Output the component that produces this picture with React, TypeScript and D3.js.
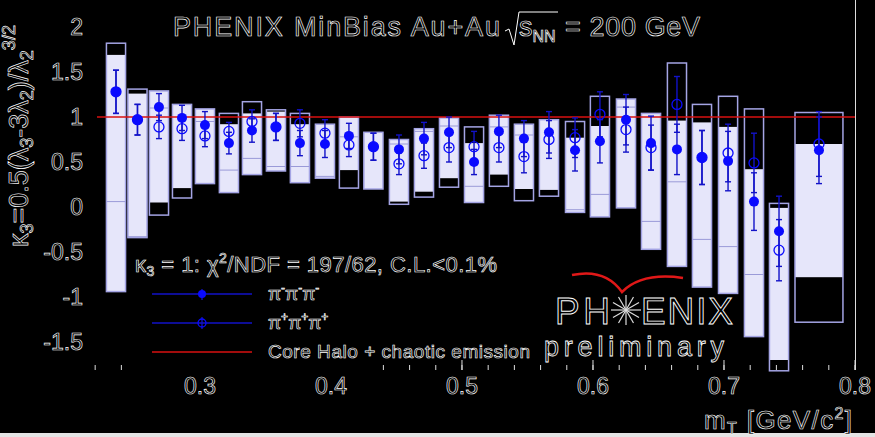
import * as d3 from "d3"

// bin centres in m_T [GeV/c^2] and bin widths
const mT = [
  0.2359, 0.2523, 0.2687, 0.2863, 0.3038, 0.3221, 0.3397, 0.358, 0.3763, 0.3954,
  0.4137, 0.4324, 0.4519, 0.471, 0.4901, 0.5092, 0.5282, 0.5473, 0.5664, 0.5863,
  0.6053, 0.6252, 0.6443, 0.6641, 0.6832, 0.7031, 0.7229, 0.742, 0.7725,
]
const binWidth = [
  0.0146, 0.0146, 0.0146, 0.0146, 0.0146, 0.0146, 0.0146, 0.0146, 0.0146, 0.0146,
  0.0146, 0.0146, 0.0146, 0.0146, 0.0146, 0.0146, 0.0146, 0.0146, 0.0146, 0.0146,
  0.0146, 0.0146, 0.0146, 0.0146, 0.0146, 0.0146, 0.0146, 0.0146, 0.0366,
]

// systematic boxes: outer outline and the filled part
const sysHi = [
  1.82, 1.31, 1.29, 1.14, 1.09, 1.04, 1.17, 1.08, 1.04, 0.92, 1.0, 0.83, 0.75, 0.87, 0.99,
  0.89, 1.02, 0.92, 0.97, 0.95, 1.23, 1.2, 1.04, 1.6, 1.14, 1.23, 1.09, 0.04, 1.05,
]
const sysLo = [
  -0.94, -0.34, -0.09, 0.1, 0.26, 0.16, 0.36, 0.4, 0.27, 0.32, 0.21, 0.2, 0.03, 0.11, 0.22,
  0.05, 0.23, 0.07, 0.12, -0.06, -0.11, -0.01, -0.47, -0.66, -0.89, -0.96, -1.44, -1.82, -1.28,
]
const fillHi = [
  1.69, 1.26, 1.29, 1.14, 1.09, 0.92, 1.04, 1.06, 0.92, 0.92, 1.0, 0.83, 0.75, 0.87, 0.99,
  0.71, 1.02, 0.92, 0.97, 0.77, 0.9, 1.2, 1.04, 0.96, 0.94, 0.89, 0.42, -0.01, 0.7,
]
const fillLo = [
  -0.94, -0.34, 0.05, 0.21, 0.26, 0.16, 0.36, 0.4, 0.27, 0.32, 0.41, 0.2, 0.06, 0.17, 0.32,
  0.05, 0.36, 0.2, 0.19, -0.06, -0.11, -0.01, -0.47, -0.66, -0.89, -0.96, -1.44, -1.7, -0.78,
]
const innerLine: (number | null)[] = [
  0.06, -0.33, 1.1, null, 0.95, 0.41, 0.54, 0.45, 0.45, 0.34, 0.78, null, 0.7, 0.84, 0.9,
  0.23, 0.89, 0.8, null, -0.03, 0.14, 1.11, -0.16, 0.28, -0.36, -0.44, -0.75, null, null,
]

// pi- pi- pi- (filled) and pi+ pi+ pi+ (open)
const kMinus = [
  1.28, 0.97, 1.11, 0.99, 0.91, 0.71, 0.85, 0.89, 0.71, 0.7, 0.79, 0.67, 0.64, 0.76, 0.83,
  0.5, 0.84, 0.76, 0.83, 0.63, 0.73, 0.97, 0.71, 0.64, 0.55, 0.51, 0.06, -0.27, 0.63,
]
const kMinusErr = [
  0.24, 0.17, 0.15, 0.14, 0.15, 0.12, 0.13, 0.15, 0.14, 0.15, 0.14, 0.15, 0.16, 0.18, 0.17,
  0.14, 0.18, 0.2, 0.23, 0.23, 0.24, 0.28, 0.3, 0.28, 0.3, 0.33, 0.32, 0.39, 0.37,
]
const kPlus = [
  1.28, 0.97, 0.89, 0.87, 0.79, 0.84, 0.95, 0.89, 0.93, 0.82, 0.69, 0.67, 0.48, 0.57, 0.66,
  0.67, 0.66, 0.56, 0.75, 0.77, 1.03, 0.86, 0.66, 1.14, 0.55, 0.6, 0.49, -0.48, 0.7,
]
const kPlusErr = [
  0.24, 0.17, 0.13, 0.13, 0.12, 0.1, 0.13, 0.15, 0.15, 0.15, 0.13, 0.15, 0.12, 0.14, 0.16,
  0.17, 0.16, 0.18, 0.21, 0.22, 0.25, 0.25, 0.25, 0.31, 0.3, 0.32, 0.33, 0.34, 0.36,
]

const yTicks = [2, 1.5, 1, 0.5, 0, -0.5, -1, -1.5]
const xMajor = [0.3, 0.4, 0.5, 0.6, 0.7, 0.8]
const coreHalo = 1

const W = 875
const H = 437

const txt = { fill: "#000", stroke: "#fff", strokeWidth: 0.65, fontFamily: "Liberation Sans, Arial, sans-serif" }

export default function App() {
  const x = d3.scaleLinear().domain([0.2214, 0.8]).range([97, 855])
  const y = d3.scaleLinear().domain([-1.8, 2.3]).range([369, 0])
  const minor = d3.range(0.22, 0.8001, 0.02)
  const boxCol = "#a4a4e4"
  const fillCol = "#e6e6fa"
  const ptCol = "#0a0aff"
  const errCol = "#1212c8"

  const errBar = (xc: number, v: number, e: number, key: string) => (
    <g key={key} stroke={errCol} strokeWidth={1.4}>
      <line x1={xc} x2={xc} y1={y(v + e)} y2={y(v - e)} />
      <line x1={xc - 3} x2={xc + 3} y1={y(v + e)} y2={y(v + e)} />
      <line x1={xc - 3} x2={xc + 3} y1={y(v - e)} y2={y(v - e)} />
    </g>
  )

  // starburst for the logo
  const star = d3.range(12).map((i) => (i * Math.PI * 2) / 12)

  return (
    <svg
      width={W}
      height={H}
      style={{ position: "absolute", left: 0, top: 0, display: "block" }}
    >
      <rect width={W} height={H} fill="#000" />
      <rect y={433} width={W} height={4} fill="#e4e4e4" />
      <line x1={855.5} x2={855.5} y1={0} y2={370} stroke="#ddd" strokeWidth={1} />

      {/* x axis ticks */}
      <g stroke="#ddd" strokeWidth={1}>
        {minor.map((m, i) => (
          <line key={i} x1={x(m)} x2={x(m)} y1={370} y2={365} />
        ))}
        {xMajor.map((m) => (
          <line key={m} x1={x(m)} x2={x(m)} y1={370} y2={360} />
        ))}
      </g>

      {/* systematic boxes */}
      {mT.map((m, i) => {
        const x0 = x(m - binWidth[i] / 2)
        const w = x(m + binWidth[i] / 2) - x0
        return (
          <g key={i}>
            <rect x={x0} y={y(fillHi[i])} width={w} height={y(fillLo[i]) - y(fillHi[i])} fill={fillCol} />
            <rect
              x={x0}
              y={y(sysHi[i])}
              width={w}
              height={y(sysLo[i]) - y(sysHi[i])}
              fill="none"
              stroke={boxCol}
              strokeWidth={1.5}
            />
            {innerLine[i] !== null && (
              <line x1={x0} x2={x0 + w} y1={y(innerLine[i]!)} y2={y(innerLine[i]!)} stroke="#9a9ad8" strokeWidth={1} />
            )}
          </g>
        )
      })}

      <line x1={97} x2={855} y1={y(coreHalo)} y2={y(coreHalo)} stroke="#d81010" strokeWidth={1.5} />

      {/* points */}
      {mT.map((m, i) => errBar(x(m), kPlus[i], kPlusErr[i], "pe" + i))}
      {mT.map((m, i) => errBar(x(m), kMinus[i], kMinusErr[i], "me" + i))}
      {mT.map((m, i) => (
        <circle key={"o" + i} cx={x(m)} cy={y(kPlus[i])} r={5} fill="none" stroke={ptCol} strokeWidth={1.3} />
      ))}
      {mT.map((m, i) => (
        <circle key={"f" + i} cx={x(m)} cy={y(kMinus[i])} r={5} fill={ptCol} />
      ))}

      {/* y tick labels */}
      {yTicks.map((t) => (
        <text key={t} x={83} y={y(t) + 8} textAnchor="end" fontSize={23} style={txt}>
          {t < 0 ? "-" + Math.abs(t) : t}
        </text>
      ))}
      {/* x tick labels */}
      {xMajor.map((t) => (
        <text key={t} x={x(t)} y={394} textAnchor="middle" fontSize={23} style={txt}>
          {t.toFixed(1)}
        </text>
      ))}

      {/* axis titles */}
      <text x={704} y={429} fontSize={26} textLength={148} style={txt}>
        m<tspan fontSize={16} dy={5}>T</tspan>
        <tspan dy={-5}> [GeV/c</tspan>
        <tspan fontSize={16} dy={-10}>2</tspan>
        <tspan dy={10}>]</tspan>
      </text>
      <text transform="translate(28,247) rotate(-90)" fontSize={27} style={txt}>
        κ<tspan fontSize={18} dy={5}>3</tspan>
        <tspan dy={-5}>=0.5(λ</tspan>
        <tspan fontSize={18} dy={5}>3</tspan>
        <tspan dy={-5}>-3λ</tspan>
        <tspan fontSize={18} dy={5}>2</tspan>
        <tspan dy={-5}>)/λ</tspan>
        <tspan fontSize={18} dy={5}>2</tspan>
        <tspan fontSize={18} dy={-18}>3/2</tspan>
      </text>

      {/* title */}
      <text x={173} y={36} fontSize={27} textLength={327} style={txt}>
        PHENIX MinBias Au+Au
      </text>
      <path d="M505,31 L509,29 L514,45 L519,12 L558,12" fill="none" stroke="#fff" strokeWidth={1} />
      <text x={519} y={36} fontSize={27} style={txt}>
        s<tspan fontSize={16} dy={6}>NN</tspan>
      </text>
      <text x={565} y={36} fontSize={27} textLength={135} style={txt}>
        = 200 GeV
      </text>

      {/* legend */}
      <rect x={130} y={246} width={245} height={126} fill="#000" />
      <text x={135} y={272} fontSize={22} textLength={362} style={txt}>
        κ<tspan fontSize={14} dy={4}>3</tspan>
        <tspan dy={-4}> = 1: χ</tspan>
        <tspan fontSize={14} dy={-9}>2</tspan>
        <tspan dy={9}>/NDF = 197/62, C.L.&lt;0.1%</tspan>
      </text>
      <g>
        <line x1={152} x2={252} y1={294} y2={294} stroke={errCol} strokeWidth={1.3} />
        <line x1={202} x2={202} y1={289} y2={300} stroke={errCol} strokeWidth={1.3} />
        <circle cx={202} cy={294} r={4} fill={ptCol} />
        <text x={268} y={300} fontSize={19} style={txt}>
          π<tspan fontSize={12} dy={-8}>-</tspan>
          <tspan dy={8}>π</tspan>
          <tspan fontSize={12} dy={-8}>-</tspan>
          <tspan dy={8}>π</tspan>
          <tspan fontSize={12} dy={-8}>-</tspan>
        </text>
        <line x1={152} x2={252} y1={323} y2={323} stroke={errCol} strokeWidth={1.3} />
        <line x1={202} x2={202} y1={317} y2={329} stroke={errCol} strokeWidth={1.3} />
        <circle cx={202} cy={323} r={4} fill="none" stroke={ptCol} strokeWidth={1.3} />
        <text x={268} y={329} fontSize={19} style={txt}>
          π<tspan fontSize={12} dy={-8}>+</tspan>
          <tspan dy={8}>π</tspan>
          <tspan fontSize={12} dy={-8}>+</tspan>
          <tspan dy={8}>π</tspan>
          <tspan fontSize={12} dy={-8}>+</tspan>
        </text>
        <line x1={152} x2={252} y1={352} y2={352} stroke="#d81010" strokeWidth={1.5} />
        <text x={268} y={358} fontSize={19} textLength={262} style={txt}>
          Core Halo + chaotic emission
        </text>
      </g>

      {/* PHENIX preliminary logo */}
      <path d="M572,275 Q605,268 622,292 Q642,272 683,278" fill="none" stroke="#e01818" strokeWidth={2.5} />
      <text x={555} y={324} fontSize={37} textLength={55} style={{ ...txt, strokeWidth: 0.9 }}>
        PH
      </text>
      <g stroke="#ddd" strokeWidth={1.2}>
        {star.map((a, i) => (
          <line key={i} x1={626} y1={310} x2={626 + 15 * Math.cos(a)} y2={310 + 15 * Math.sin(a)} />
        ))}
      </g>
      <text x={641} y={324} fontSize={37} textLength={92} style={{ ...txt, strokeWidth: 0.9 }}>
        ENIX
      </text>
      <text x={544} y={356} fontSize={27} textLength={180} style={{ ...txt, strokeWidth: 0.8 }}>
        preliminary
      </text>
    </svg>
  )
}
